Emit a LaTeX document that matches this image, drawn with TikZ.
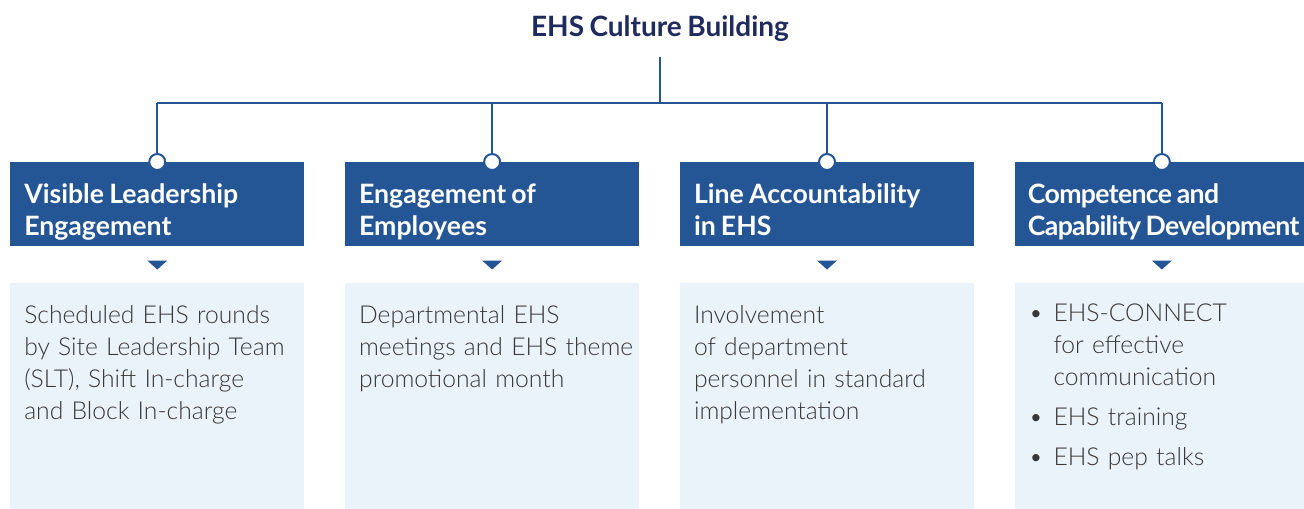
\documentclass[tikz,border=0pt]{standalone}
\usepackage{fontspec}
\setmainfont{Lato}[WordSpace=0.8]
\newfontfamily\lightfont{Lato Light}
\usetikzlibrary{positioning, calc}

\definecolor{ehsblue}{HTML}{245594}
\definecolor{ehsnavy}{HTML}{1F2B5C}
\definecolor{ehspale}{HTML}{EAF2FA}
\definecolor{ehstext}{HTML}{383838}

\begin{document}
\begin{tikzpicture}[x=0.75pt, y=-0.75pt, node distance=27pt and 30.25pt,
  head/.style={rectangle, fill=ehsblue, minimum width=220.5pt, minimum height=63pt, inner sep=0pt},
  headtext/.style={anchor=west, inner sep=0pt, text=white, align=left, font=\bfseries\fontsize{20}{24}\selectfont},
  panel/.style={rectangle, fill=ehspale, minimum width=220.5pt, minimum height=169.5pt, inner sep=0pt},
  bodytext/.style={anchor=north west, inner sep=0pt, text width=210pt, align=left, text=ehstext, font=\lightfont\fontsize{18.5}{24}\selectfont},
  dot/.style={circle, draw=ehsblue, fill=white, line width=1.5pt, minimum size=12pt, inner sep=0pt},
  link/.style={draw=ehsblue, line width=1.6pt},
  pointer/.style={fill=ehsblue}]
\useasboundingbox (0,0) rectangle (1304,508);

\node[text=ehsnavy, font=\bfseries\fontsize{21}{25}\selectfont] (title) at (660,29) {EHS Culture Building};
\coordinate (bus) at (660,103);

% header boxes
\node[head, anchor=north west] (head1) at (10,162) {};
\node[head, right=of head1] (head2) {};
\node[head, right=of head2] (head3) {};
\node[head, right=of head3] (head4) {};

\node[headtext] (cap1) at ([shift={(14,9)}]head1.west) {Visible Leadership\strut\\Engagement\strut};
\node[headtext] (cap2) at ([shift={(14,9)}]head2.west) {Engagement of\strut\\Employees\strut};
\node[headtext] (cap3) at ([shift={(14,9)}]head3.west) {Line Accountability\strut\\in EHS\strut};
% this one is tight, so squeeze the letters a little
\node[headtext, font=\bfseries\fontsize{20}{24}\selectfont\addfontfeature{LetterSpace=-2.5}] (cap4) at ([shift={(13,9)}]head4.west) {Competence and\strut\\Capability Development\strut};

% panels below the headers
\node[panel, below=of head1] (body1) {};
\node[panel, below=of head2] (body2) {};
\node[panel, below=of head3] (body3) {};
\node[panel, below=of head4] (body4) {};

\node[bodytext] (txt1) at ([shift={(14,23)}]body1.north west) {Scheduled EHS rounds\\by Site Leadership Team\\(SLT), Shift In-charge\\and Block In-charge};
\node[bodytext] (txt2) at ([shift={(14,23)}]body2.north west) {Departmental EHS\\meetings and EHS theme\\promotional month};
\node[bodytext] (txt3) at ([shift={(14,23)}]body3.north west) {Involvement\\of department\\personnel in standard\\implementation};
\node[bodytext] (txt4) at ([shift={(14,21)}]body4.north west) {%
  \makebox[18.5pt][l]{\textbullet}EHS-CONNECT\\
  \hspace*{18.5pt}for effective\\
  \hspace*{18.5pt}communication\\[6pt]
  \makebox[18.5pt][l]{\textbullet}EHS training\\[6pt]
  \makebox[18.5pt][l]{\textbullet}EHS pep talks};

% small pointers between header and panel
\foreach \i in {1,...,4}
  \fill[pointer] ([shift={(-10,14)}]head\i.south) -- ++(20,0) -- ++(-10,9) -- cycle;

% tree connectors
\foreach \i in {1,...,4}
  \node[dot] (dot\i) at (head\i.north) {};
\draw[link, shorten <=7.5pt] (title.south) -- (bus);
\draw[link] (bus -| dot1) -- (bus -| dot4);
\foreach \i in {1,...,4}
  \draw[link] (bus -| dot\i) -- (dot\i);
\end{tikzpicture}
\end{document}
